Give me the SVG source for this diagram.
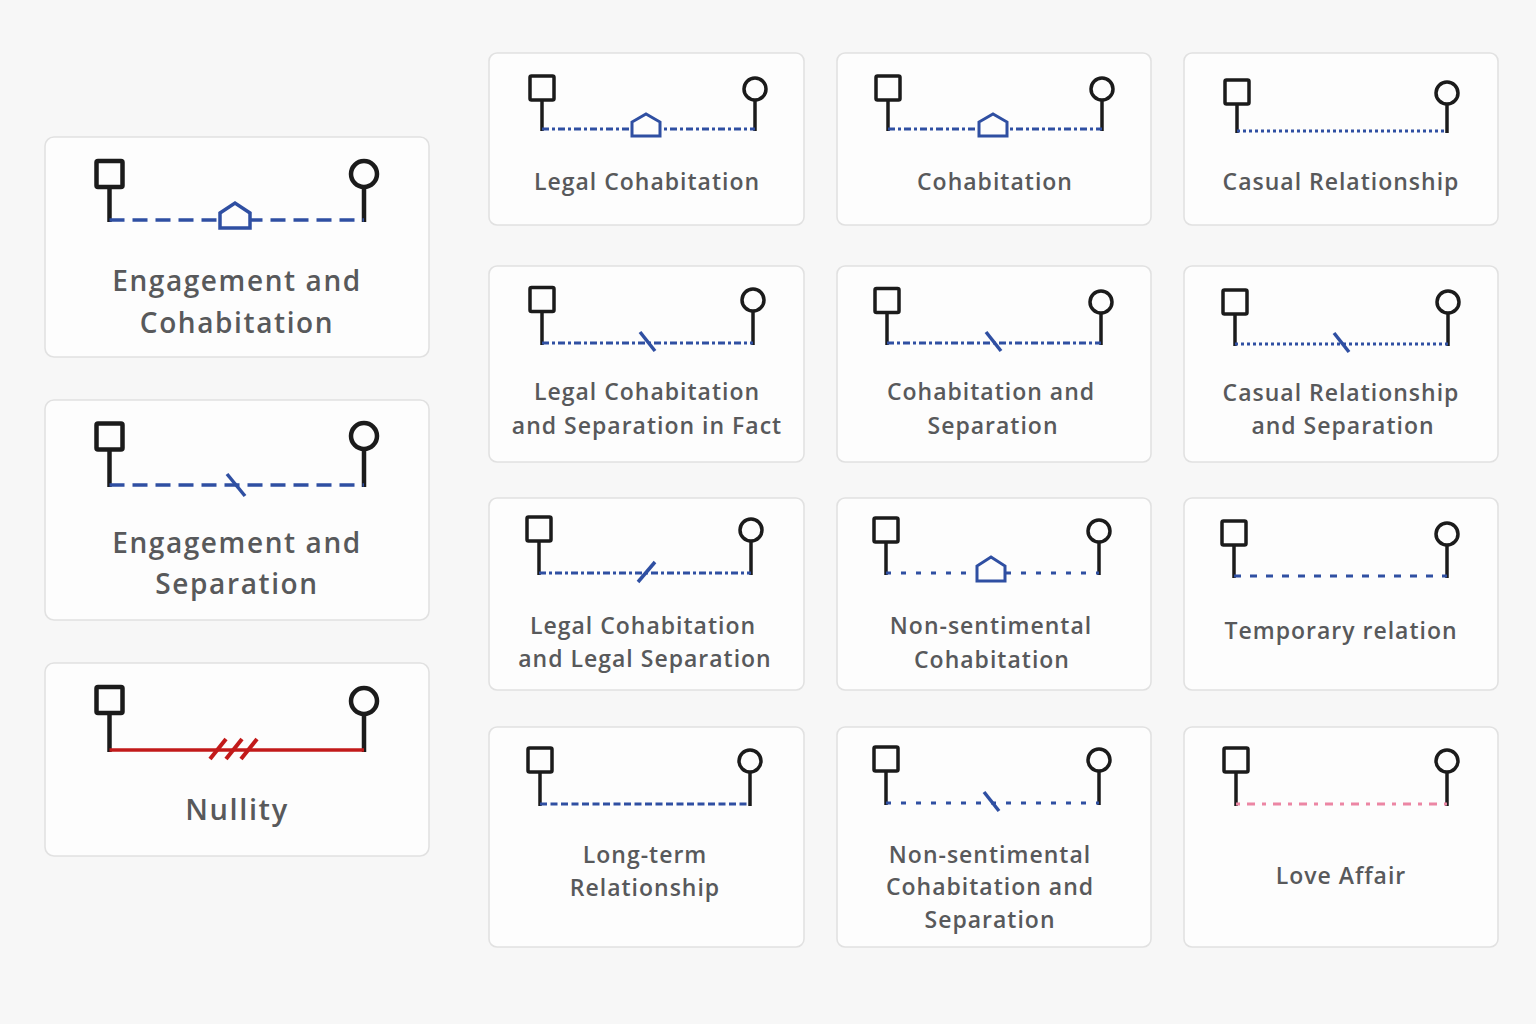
<svg xmlns="http://www.w3.org/2000/svg" width="1536" height="1024" viewBox="0 0 1536 1024">
<style>
.bg{fill:#f7f7f7}
.card{fill:#fdfdfd;stroke:#e1e1e1;stroke-width:1.6}
.sym{fill:none;stroke:#1b1b1b;stroke-width:3.5;stroke-linecap:butt}
.symL{fill:none;stroke:#1b1b1b;stroke-width:4.5;stroke-linecap:butt}
.blue{fill:none;stroke:#2f4fa2;stroke-width:3}
.blueL{fill:none;stroke:#2f4fa2;stroke-width:3.5}
.house{fill:#fdfdfd;stroke:#2f4fa2;stroke-width:3;stroke-linejoin:miter}
.houseL{fill:#fdfdfd;stroke:#2f4fa2;stroke-width:3.5;stroke-linejoin:miter}
.slash{stroke:#2f4fa2;stroke-width:3.5;fill:none}
.red{stroke:#c21a1a;stroke-width:3.5;fill:none}
.redS{stroke:#c21a1a;stroke-width:4;fill:none}
.pink{stroke:#ec86a4;stroke-width:3;fill:none;stroke-dasharray:4 7 8 7}
.dashL{stroke-dasharray:15 8}
.dashdot{stroke-dasharray:7 3 3 3}
.dots{stroke-dasharray:3 3}
.sparse{stroke-dasharray:5 10}
.temp{stroke-dasharray:7 9}
.long{stroke-dasharray:7 3.5}
.lbl{font-family:"Open Sans","Liberation Sans",sans-serif;font-weight:600;fill:#58595b;text-anchor:middle;font-size:23px;letter-spacing:1px}
.lblL{font-family:"Open Sans","Liberation Sans",sans-serif;font-weight:600;fill:#58595b;text-anchor:middle;font-size:28px;letter-spacing:1.6px}
</style>
<rect class="bg" x="0" y="0" width="1536" height="1024"/>

<g id="engagement-cohabitation">
<rect class="card" x="45" y="137" width="384" height="220" rx="9"/>
<rect class="symL" x="96.5" y="161" width="26" height="26" rx="1.5"/>
<line class="symL" x1="109.5" y1="187" x2="109.5" y2="222"/>
<circle class="symL" cx="364" cy="174" r="13"/>
<line class="symL" x1="364" y1="187" x2="364" y2="222"/>
<line class="blueL dashL" x1="109.5" y1="220" x2="364" y2="220"/>
<path class="houseL" d="M220,228 V213 L235,203 L250,213 V228 Z"/>
<text class="lblL" x="237" y="291">Engagement and</text>
<text class="lblL" x="237" y="333">Cohabitation</text>
</g>

<g id="engagement-separation">
<rect class="card" x="45" y="400" width="384" height="220" rx="9"/>
<rect class="symL" x="96.5" y="423.5" width="26" height="26" rx="1.5"/>
<line class="symL" x1="109.5" y1="449.5" x2="109.5" y2="487"/>
<circle class="symL" cx="364" cy="436" r="13"/>
<line class="symL" x1="364" y1="449" x2="364" y2="487"/>
<line class="blueL dashL" x1="109.5" y1="485" x2="364" y2="485"/>
<line class="slash" x1="227" y1="474" x2="245" y2="496"/>
<text class="lblL" x="237" y="553">Engagement and</text>
<text class="lblL" x="237" y="594">Separation</text>
</g>

<g id="nullity">
<rect class="card" x="45" y="663" width="384" height="193" rx="9"/>
<rect class="symL" x="96.5" y="687" width="26" height="26" rx="1.5"/>
<line class="symL" x1="109.5" y1="713" x2="109.5" y2="752"/>
<circle class="symL" cx="364" cy="701" r="13"/>
<line class="symL" x1="364" y1="714" x2="364" y2="752"/>
<line class="red" x1="109.5" y1="750" x2="364" y2="750"/>
<line class="redS" x1="210" y1="759" x2="226" y2="739"/>
<line class="redS" x1="226" y1="759" x2="242" y2="739"/>
<line class="redS" x1="241" y1="759" x2="257" y2="739"/>
<text class="lblL" x="237" y="820" style="font-size:29px">Nullity</text>
</g>

<g id="legal-cohabitation">
<rect class="card" x="489" y="53" width="315" height="172" rx="8"/>
<rect class="sym" x="530" y="76" width="24" height="24" rx="1.5"/>
<line class="sym" x1="542" y1="100" x2="542" y2="131"/>
<circle class="sym" cx="755" cy="89" r="11"/>
<line class="sym" x1="755" y1="100" x2="755" y2="131"/>
<line class="blue dashdot" x1="542" y1="129" x2="755" y2="129"/>
<path class="house" d="M632,136 V122 L646,114 L660,122 V136 Z"/>
<text class="lbl" x="647" y="190">Legal Cohabitation</text>
</g>

<g id="cohabitation">
<rect class="card" x="837" y="53" width="314" height="172" rx="8"/>
<rect class="sym" x="876" y="76" width="24" height="24" rx="1.5"/>
<line class="sym" x1="888" y1="100" x2="888" y2="131"/>
<circle class="sym" cx="1102" cy="89" r="11"/>
<line class="sym" x1="1102" y1="100" x2="1102" y2="131"/>
<line class="blue dashdot" x1="888" y1="129" x2="1102" y2="129"/>
<path class="house" d="M979,136 V122 L993,114 L1007,122 V136 Z"/>
<text class="lbl" x="995" y="190">Cohabitation</text>
</g>

<g id="casual-relationship">
<rect class="card" x="1184" y="53" width="314" height="172" rx="8"/>
<rect class="sym" x="1225" y="80" width="24" height="24" rx="1.5"/>
<line class="sym" x1="1237" y1="104" x2="1237" y2="133"/>
<circle class="sym" cx="1447" cy="93" r="11"/>
<line class="sym" x1="1447" y1="104" x2="1447" y2="133"/>
<line class="blue dots" x1="1237" y1="131" x2="1447" y2="131"/>
<text class="lbl" x="1341" y="190">Casual Relationship</text>
</g>

<g id="legal-cohabitation-separation-fact">
<rect class="card" x="489" y="266" width="315" height="196" rx="8"/>
<rect class="sym" x="530" y="287.5" width="24" height="24" rx="1.5"/>
<line class="sym" x1="542" y1="311.5" x2="542" y2="345"/>
<circle class="sym" cx="753" cy="300" r="11"/>
<line class="sym" x1="753" y1="311" x2="753" y2="345"/>
<line class="blue dashdot" x1="542" y1="343" x2="753" y2="343"/>
<line class="slash" x1="640" y1="332" x2="655" y2="351"/>
<text class="lbl" x="647" y="400">Legal Cohabitation</text>
<text class="lbl" x="647" y="434">and Separation in Fact</text>
</g>

<g id="cohabitation-separation">
<rect class="card" x="837" y="266" width="314" height="196" rx="8"/>
<rect class="sym" x="875" y="288.5" width="24" height="24" rx="1.5"/>
<line class="sym" x1="887" y1="312.5" x2="887" y2="345"/>
<circle class="sym" cx="1101" cy="302" r="11"/>
<line class="sym" x1="1101" y1="313" x2="1101" y2="345"/>
<line class="blue dashdot" x1="887" y1="343" x2="1101" y2="343"/>
<line class="slash" x1="986" y1="332" x2="1001" y2="351"/>
<text class="lbl" x="991" y="400">Cohabitation and</text>
<text class="lbl" x="993" y="434">Separation</text>
</g>

<g id="casual-relationship-separation">
<rect class="card" x="1184" y="266" width="314" height="196" rx="8"/>
<rect class="sym" x="1223" y="290" width="24" height="24" rx="1.5"/>
<line class="sym" x1="1235" y1="314" x2="1235" y2="346"/>
<circle class="sym" cx="1448" cy="302" r="11"/>
<line class="sym" x1="1448" y1="313" x2="1448" y2="346"/>
<line class="blue dots" x1="1235" y1="344" x2="1448" y2="344"/>
<line class="slash" x1="1334" y1="333" x2="1349" y2="352"/>
<text class="lbl" x="1341" y="401">Casual Relationship</text>
<text class="lbl" x="1343" y="434">and Separation</text>
</g>

<g id="legal-cohabitation-legal-separation">
<rect class="card" x="489" y="498" width="315" height="192" rx="8"/>
<rect class="sym" x="527" y="517" width="24" height="24" rx="1.5"/>
<line class="sym" x1="539" y1="541" x2="539" y2="575"/>
<circle class="sym" cx="751" cy="530" r="11"/>
<line class="sym" x1="751" y1="541" x2="751" y2="575"/>
<line class="blue dashdot" x1="539" y1="573" x2="751" y2="573"/>
<line class="slash" x1="638" y1="582" x2="655" y2="562"/>
<text class="lbl" x="643" y="634">Legal Cohabitation</text>
<text class="lbl" x="645" y="667">and Legal Separation</text>
</g>

<g id="non-sentimental-cohabitation">
<rect class="card" x="837" y="498" width="314" height="192" rx="8"/>
<rect class="sym" x="874" y="518" width="24" height="24" rx="1.5"/>
<line class="sym" x1="886" y1="542" x2="886" y2="575"/>
<circle class="sym" cx="1099" cy="531" r="11"/>
<line class="sym" x1="1099" y1="542" x2="1099" y2="575"/>
<line class="blue sparse" x1="886" y1="573" x2="1099" y2="573"/>
<path class="house" d="M977,581 V566 L991,557 L1005,566 V581 Z"/>
<text class="lbl" x="991" y="634">Non-sentimental</text>
<text class="lbl" x="992" y="668">Cohabitation</text>
</g>

<g id="temporary-relation">
<rect class="card" x="1184" y="498" width="314" height="192" rx="8"/>
<rect class="sym" x="1222" y="521" width="24" height="24" rx="1.5"/>
<line class="sym" x1="1234" y1="545" x2="1234" y2="578"/>
<circle class="sym" cx="1447" cy="534" r="11"/>
<line class="sym" x1="1447" y1="545" x2="1447" y2="578"/>
<line class="blue temp" x1="1234" y1="576" x2="1447" y2="576"/>
<text class="lbl" x="1341" y="639">Temporary relation</text>
</g>

<g id="long-term-relationship">
<rect class="card" x="489" y="727" width="315" height="220" rx="8"/>
<rect class="sym" x="528" y="748" width="24" height="24" rx="1.5"/>
<line class="sym" x1="540" y1="772" x2="540" y2="806"/>
<circle class="sym" cx="750" cy="761" r="11"/>
<line class="sym" x1="750" y1="772" x2="750" y2="806"/>
<line class="blue long" x1="540" y1="804" x2="750" y2="804"/>
<text class="lbl" x="645" y="863">Long-term</text>
<text class="lbl" x="645" y="896">Relationship</text>
</g>

<g id="non-sentimental-cohabitation-separation">
<rect class="card" x="837" y="727" width="314" height="220" rx="8"/>
<rect class="sym" x="874" y="747" width="24" height="24" rx="1.5"/>
<line class="sym" x1="886" y1="771" x2="886" y2="805"/>
<circle class="sym" cx="1099" cy="760" r="11"/>
<line class="sym" x1="1099" y1="771" x2="1099" y2="805"/>
<line class="blue sparse" x1="886" y1="803" x2="1099" y2="803"/>
<line class="slash" x1="984" y1="792" x2="999" y2="811"/>
<text class="lbl" x="990" y="863">Non-sentimental</text>
<text class="lbl" x="990" y="895">Cohabitation and</text>
<text class="lbl" x="990" y="928">Separation</text>
</g>

<g id="love-affair">
<rect class="card" x="1184" y="727" width="314" height="220" rx="8"/>
<rect class="sym" x="1224" y="748" width="24" height="24" rx="1.5"/>
<line class="sym" x1="1236" y1="772" x2="1236" y2="806"/>
<circle class="sym" cx="1447" cy="761" r="11"/>
<line class="sym" x1="1447" y1="772" x2="1447" y2="806"/>
<line class="pink" x1="1236" y1="804" x2="1447" y2="804"/>
<text class="lbl" x="1341" y="884">Love Affair</text>
</g>
</svg>
